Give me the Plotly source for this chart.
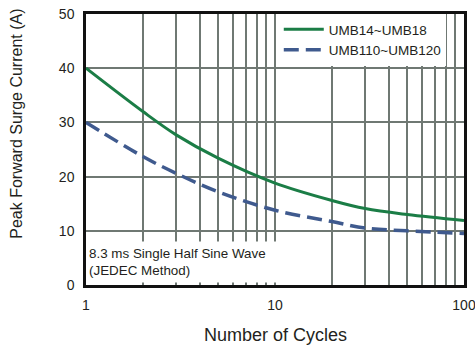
import plotly.graph_objects as go

cycles = [1, 2, 3, 5, 10, 20, 30, 50, 100]
umb14_18 = [40, 32, 27.7, 23.4, 18.8, 15.6, 14.1, 13.0, 11.9]
umb110_120 = [30, 23.7, 20.6, 17.2, 13.8, 11.7, 10.5, 10.0, 9.5]

x_grid = [1, 2, 3, 4, 5, 6, 7, 8, 9, 10, 20, 30, 40, 50, 60, 70, 80, 90, 100]
x_labels = ["1", "", "", "", "", "", "", "", "", "10", "", "", "", "", "", "", "", "", "100"]
y_ticks = [0, 10, 20, 30, 40, 50]

FONT = "Liberation Sans, Arial, sans-serif"
TXT = "#231f20"
GRID = "#6f7873"

fig = go.Figure()
fig.add_trace(go.Scatter(x=cycles, y=umb14_18, mode="lines", name="UMB14~UMB18",
                         line=dict(color="#1b7d46", width=3, shape="spline")))
fig.add_trace(go.Scatter(x=cycles, y=umb110_120, mode="lines", name="UMB110~UMB120",
                         line=dict(color="#3f5a8e", width=3.5, shape="spline", dash="15px,7px")))

fig.add_shape(type="line", xref="x", yref="paper", x0=10, x1=10, y0=0, y1=1,
              line=dict(color="#000000", width=1.5), layer="below")

fig.add_annotation(xref="paper", yref="paper", x=0, y=0, xanchor="left", yanchor="bottom",
                   xshift=2, yshift=2, showarrow=False, align="left",
                   text="8.3 ms Single Half Sine Wave<br>(JEDEC Method)",
                   font=dict(family=FONT, size=13.4, color=TXT),
                   bgcolor="white", width=205, height=40, borderpad=0)

fig.add_annotation(xref="paper", yref="paper", x=-0.1825, y=0.595, showarrow=False,
                   xanchor="center", yanchor="middle",
                   text="Peak Forward Surge Current (A)", textangle=-90,
                   font=dict(family=FONT, size=16, color=TXT))

fig.add_annotation(xref="paper", yref="paper", x=0.5, y=-0.1845, showarrow=False,
                   xanchor="center", yanchor="middle",
                   text="Number of Cycles",
                   font=dict(family=FONT, size=18, color=TXT))

fig.update_layout(
    width=475, height=347,
    margin=dict(l=86, r=11, t=14, b=62, autoexpand=False),
    paper_bgcolor="white", plot_bgcolor="white",
    font=dict(family=FONT, color=TXT, size=14),
    showlegend=True,
    legend=dict(x=0.51, y=1, xanchor="left", yanchor="top", bgcolor="white",
                font=dict(family=FONT, size=13.5, color=TXT),
                borderwidth=0, tracegroupgap=0, itemwidth=40),
    xaxis=dict(type="log", range=[0, 2], tickvals=x_grid, ticktext=x_labels,
               showgrid=True, gridcolor=GRID, gridwidth=1.5,
               showline=True, linecolor="#111111", linewidth=2.5, mirror=True,
               ticks="", ticklabelstandoff=5, zeroline=False, automargin=False,
               ticklabeloverflow="allow",
               tickfont=dict(size=14)),
    yaxis=dict(range=[0, 50], tickvals=y_ticks,
               showgrid=True, gridcolor=GRID, gridwidth=1.5,
               showline=True, linecolor="#111111", linewidth=2.5, mirror=True,
               ticks="", ticklabelstandoff=6, zeroline=False, automargin=False,
               tickfont=dict(size=14)),
)

fig.write_html("out.html")
